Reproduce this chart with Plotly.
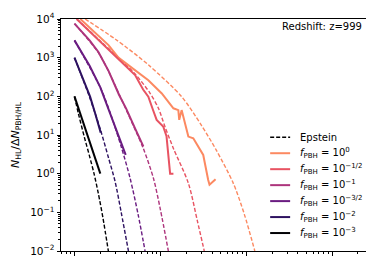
import plotly.graph_objects as go

# ---- data ----
x_m3 = [1.0, 1.25, 1.5, 1.75, 2.0]
y_m3 = [100, 22, 6.8, 2.4, 1.0]
x_m3_ep = [1.0, 1.11, 1.3, 1.5, 1.69, 1.9, 2.15, 2.48]
y_m3_ep = [100, 36, 9.0, 2.8, 1.0, 0.3, 0.07, 0.01]

x_m2 = [1.0, 1.25, 1.52, 1.75, 2.02]
y_m2 = [1000, 300, 98, 35, 11.5]
x_m2_ep = [1.0, 1.5, 2.0, 2.5, 2.97, 3.5, 4.25]
y_m2_ep = [1000, 95, 14, 2.5, 0.63, 0.1, 0.01]

x_m32 = [1.0, 1.5, 2.0, 2.6, 3.2, 3.95]
y_m32 = [2800, 620, 170, 36, 11, 3.05]
x_m32_ep = [1.0, 2.0, 2.6, 3.5, 4.44, 5.5, 6.64]
y_m32_ep = [2800, 170, 38, 5.0, 0.77, 0.09, 0.01]

x_m1 = [1.0, 1.5, 1.9, 2.5, 3.3, 4.0, 5.0, 5.84, 6.34]
y_m1 = [7600, 2800, 1400, 450, 110, 48, 16, 7.4, 5.1]
x_m1_ep = [1.0, 1.9, 2.5, 3.3, 4.0, 5.0, 6.34, 8.3, 10.0, 12.4]
y_m1_ep = [7600, 1350, 440, 115, 45, 15, 4.5, 0.77, 0.12, 0.01]

x_mh = [1.06, 2.0, 3.25, 5.08, 6.3, 7.25, 8.2, 9.06, 10.8, 11.8, 13.0, 14.2]
y_mh = [10000, 2600, 960, 355, 150, 98, 45, 24.6, 16.6, 9.3, 1.0, 1.0]
x_mh_ep = [1.06, 2.0, 3.25, 5.08, 7.6, 9.5, 11.3, 14.2, 21.2, 27.0, 32.5]
y_mh_ep = [10000, 2700, 1000, 380, 120, 49, 16.6, 4.5, 0.57, 0.06, 0.01]

x_0 = [1.17, 2.0, 2.49, 3.25, 4.6, 7.25, 10.4, 14.2, 16.2, 16.6, 17.7, 21.2, 24.2, 31.6,
       36.1, 37.4, 44.0]
y_0 = [10000, 3400, 2110, 1000, 560, 260, 119, 49, 44, 24.6, 44, 9.1, 8.2, 3.05,
       0.69, 0.52, 0.72]
x_0_ep = [1.33, 3.0, 7.3, 17.7, 30.0, 45.0, 70.6, 95.0, 126.0]
y_0_ep = [10000, 3000, 645, 98, 18, 4.0, 0.57, 0.09, 0.01]

labels = ["<i>f</i><sub>PBH</sub> = 10<sup>0</sup>",
          "<i>f</i><sub>PBH</sub> = 10<sup>−1/2</sup>",
          "<i>f</i><sub>PBH</sub> = 10<sup>−1</sup>",
          "<i>f</i><sub>PBH</sub> = 10<sup>−3/2</sup>",
          "<i>f</i><sub>PBH</sub> = 10<sup>−2</sup>",
          "<i>f</i><sub>PBH</sub> = 10<sup>−3</sup>"]
colors = ["#fc8961", "#e85362", "#ad347c", "#6a1c81", "#2d1160", "#000004"]

solid = [(x_0, y_0), (x_mh, y_mh), (x_m1, y_m1), (x_m32, y_m32), (x_m2, y_m2), (x_m3, y_m3)]
dashed = [(x_0_ep, y_0_ep), (x_mh_ep, y_mh_ep), (x_m1_ep, y_m1_ep), (x_m32_ep, y_m32_ep),
          (x_m2_ep, y_m2_ep), (x_m3_ep, y_m3_ep)]

ytick_vals = [1e-2, 1e-1, 1, 10, 100, 1000, 1e4]
ytick_text = ["10<sup>−2</sup>", "10<sup>−1</sup>", "10<sup>0</sup>", "10<sup>1</sup>",
              "10<sup>2</sup>", "10<sup>3</sup>", "10<sup>4</sup>"]
xtick_vals = [1, 10, 100, 1000]

DASH = "4px,2px"

fig = go.Figure()
for (xs, ys), c in zip(dashed, colors):
    fig.add_trace(go.Scatter(x=xs, y=ys, mode="lines", showlegend=False,
                             line=dict(color=c, width=1.4, dash=DASH, shape="spline",
                                       smoothing=0.8)))
for (xs, ys), c, lab in zip(solid, colors, labels):
    fig.add_trace(go.Scatter(x=xs, y=ys, mode="lines", name=lab, showlegend=False,
                             line=dict(color=c, width=2)))

minor_y = [m * 10.0 ** e for e in range(-2, 4) for m in range(2, 10)]
minor_x = [m * 10.0 ** e for e in range(-1, 4) for m in range(2, 10)]

# plot area in pixels (for placing the hand-built legend)
L, R, T, B = 52.5, 365.0, 10.5, 243.0
W, H = R - L, B - T

def px(xp):
    return (xp - L) / W

def py(yp):
    return (B - yp) / H

shapes = []
annotations = []
leg_names = ["Epstein"] + labels
leg_colors = ["black"] + colors
leg_dash = [DASH] + ["solid"] * 6
for i, (nm, c, d) in enumerate(zip(leg_names, leg_colors, leg_dash)):
    yrow = 129 + 16 * i
    shapes.append(dict(type="line", xref="paper", yref="paper",
                       x0=px(262), x1=px(282), y0=py(yrow), y1=py(yrow),
                       line=dict(color=c, width=2 if d == "solid" else 1.4, dash=d)))
    annotations.append(dict(text=nm, xref="paper", yref="paper", x=px(290), y=py(yrow),
                            xanchor="left", yanchor="middle", showarrow=False,
                            font=dict(size=10)))
annotations.append(dict(text="Redshift: z=999", xref="paper", yref="paper", x=px(356), y=py(18),
                        xanchor="right", yanchor="middle", showarrow=False, font=dict(size=10)))

fig.update_layout(
    width=374, height=256,
    margin=dict(l=L, r=374 - R, t=T, b=256 - B, pad=0),
    paper_bgcolor="white", plot_bgcolor="white",
    font=dict(family="DejaVu Sans", size=10, color="black"),
    showlegend=False,
    xaxis=dict(type="log", range=[-0.157, 3.477], showgrid=False, zeroline=False,
               automargin=False,
               showline=True, linecolor="black", linewidth=1, mirror=True,
               ticks="outside", ticklen=3.5, tickcolor="black",
               tickvals=xtick_vals, showticklabels=False,
               minor=dict(ticks="outside", ticklen=2, tickcolor="black", tickvals=minor_x)),
    yaxis=dict(type="log", range=[-2, 4], showgrid=False, zeroline=False,
               automargin=False,
               showline=True, linecolor="black", linewidth=1, mirror=True,
               ticks="outside", ticklen=3.5, tickcolor="black",
               tickvals=ytick_vals, ticktext=ytick_text, tickfont=dict(size=10.5),
               minor=dict(ticks="outside", ticklen=2, tickcolor="black", tickvals=minor_y),
               title=dict(text="<i>N</i><sub>HL</sub>/Δ<i>N</i><sub>PBH/HL</sub>",
                          font=dict(size=11), standoff=8)),
    shapes=shapes,
    annotations=annotations,
)

fig.write_html("out.html")
